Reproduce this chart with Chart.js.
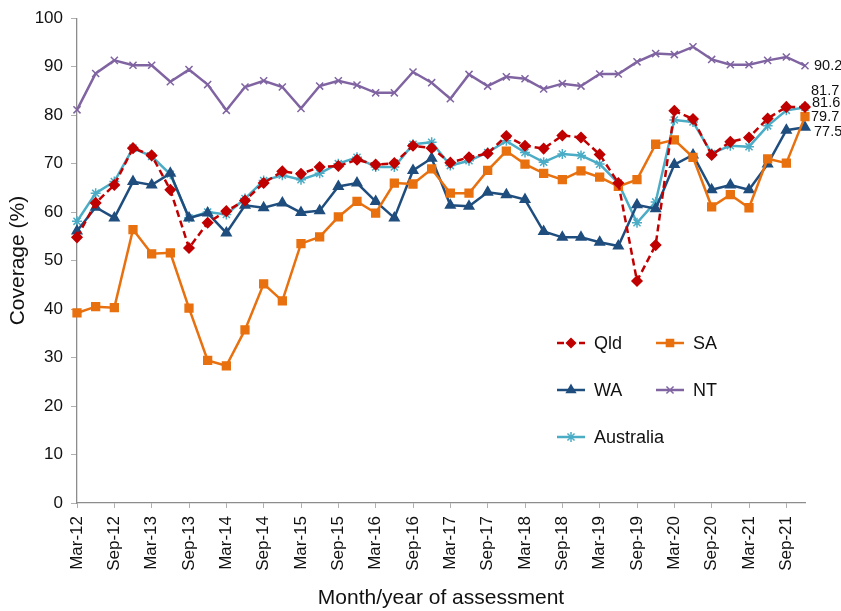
<!DOCTYPE html>
<html>
<head>
<meta charset="utf-8">
<script src="https://cdn.jsdelivr.net/npm/chart.js@4"></script>
<style>
  html, body { margin: 0; padding: 0; background: #fff; }
  #wrap { width: 841px; height: 611px; }
</style>
</head>
<body>
<div id="wrap"><canvas id="coverageChart" width="841" height="611"></canvas></div>
<script>
// quarterly assessments, Mar-12 .. Dec-21
const quarters = [];
const monthNames = ['Mar', 'Jun', 'Sep', 'Dec'];
for (let yr = 12; yr <= 21; yr++) {
    monthNames.forEach(m => quarters.push(m + '-' + yr));
}

const qld = [54.8, 61.9, 65.6, 73.2, 71.7, 64.6, 52.6, 57.8, 60.2, 62.4,
             66.0, 68.4, 67.9, 69.3, 69.5, 70.8, 69.8, 70.1, 73.7, 73.2,
             70.2, 71.3, 72.1, 75.7, 73.7, 73.1, 75.8, 75.4, 71.9, 66.0,
             45.8, 53.2, 80.9, 79.2, 71.8, 74.5, 75.4, 79.3, 81.7, 81.7];
const sa = [39.2, 40.5, 40.3, 56.4, 51.4, 51.6, 40.2, 29.4, 28.3, 35.7,
            45.2, 41.7, 53.5, 54.9, 59.0, 62.2, 59.8, 66.0, 65.8, 68.9,
            63.9, 63.9, 68.6, 72.6, 69.9, 68.0, 66.7, 68.5, 67.2, 65.3,
            66.7, 74.0, 74.9, 71.3, 61.1, 63.6, 60.9, 71.0, 70.1, 79.7];
const wa = [56.1, 61.0, 58.8, 66.3, 65.6, 68.0, 58.8, 59.8, 55.7, 61.4,
            60.9, 61.9, 59.9, 60.3, 65.3, 66.0, 62.2, 58.8, 68.6, 71.1,
            61.4, 61.2, 64.1, 63.6, 62.6, 56.0, 54.8, 54.8, 53.8, 53.0,
            61.5, 60.7, 69.8, 71.8, 64.6, 65.6, 64.6, 69.9, 76.9, 77.5];
const nt = [81.1, 88.6, 91.3, 90.3, 90.3, 86.9, 89.4, 86.3, 81.0, 85.8,
            87.1, 85.8, 81.4, 86.0, 87.1, 86.2, 84.6, 84.6, 88.9, 86.7,
            83.4, 88.4, 86.0, 87.9, 87.5, 85.4, 86.5, 86.0, 88.5, 88.5,
            91.0, 92.7, 92.5, 94.1, 91.5, 90.4, 90.4, 91.3, 92.0, 90.2];
const australia = [58.1, 63.9, 66.3, 73.2, 71.5, 67.8, 58.8, 60.0, 59.5, 62.8,
                   66.5, 67.6, 66.7, 68.0, 70.0, 71.3, 69.3, 69.3, 74.0, 74.4,
                   69.6, 70.6, 72.3, 74.7, 72.3, 70.3, 72.0, 71.7, 69.9, 66.0,
                   57.8, 62.1, 79.0, 78.6, 72.1, 73.7, 73.5, 77.8, 81.0, 81.6];

const yTicks = [0, 10, 20, 30, 40, 50, 60, 70, 80, 90, 100];

const FONT = '"Liberation Sans", Arial, sans-serif';

function series(label, data, color, style, extra) {
    return Object.assign({
        label: label,
        data: data,
        borderColor: color,
        backgroundColor: color,
        pointBackgroundColor: color,
        pointBorderColor: color,
        borderWidth: 2.5,
        pointStyle: style,
        pointRadius: 5,
        pointBorderWidth: 1.5,
        tension: 0,
        fill: false
    }, extra || {});
}

const datasets = [
    series('Qld', qld, '#C00000', 'rectRot', { borderDash: [7, 4], pointRadius: 5 }),
    series('SA', sa, '#E8700E', 'rect', { pointRadius: 5.5 }),
    series('WA', wa, '#1F4E7E', 'triangle', { pointRadius: 5.5 }),
    series('NT', nt, '#8064A2', 'crossRot', { pointRadius: 5 }),
    series('Australia', australia, '#4BACC6', 'star', { pointRadius: 5 })
];

// nudges for the closing values so they don't collide
const endLabelShift = {
    Qld: [6, -16],
    SA: [6, 0],
    WA: [9, 4.5],
    NT: [9, 0.5],
    Australia: [7, -4]
};

const endLabels = {
    id: 'endLabels',
    afterDatasetsDraw(chart) {
        const ctx = chart.ctx;
        const y = chart.scales.y;
        const area = chart.chartArea;
        ctx.save();
        ctx.font = '14.5px ' + FONT;
        ctx.fillStyle = '#111';
        ctx.textBaseline = 'middle';
        ctx.textAlign = 'left';
        chart.data.datasets.forEach(ds => {
            const v = ds.data[ds.data.length - 1];
            const [dx, dy] = endLabelShift[ds.label];
            ctx.fillText(v.toFixed(1), area.right + dx, y.getPixelForValue(v) + dy);
        });
        ctx.restore();
    }
};

// two-column legend sitting inside the plot area
const legendSpots = [[557, 343], [656, 343], [557, 390], [656, 390], [557, 437]];

const insideLegend = {
    id: 'insideLegend',
    afterDraw(chart) {
        const ctx = chart.ctx;
        ctx.save();
        chart.data.datasets.forEach((ds, i) => {
            const [lx, ly] = legendSpots[i];
            ctx.strokeStyle = ds.borderColor;
            ctx.lineWidth = 2.5;
            ctx.setLineDash(ds.borderDash || []);
            ctx.beginPath();
            ctx.moveTo(lx, ly);
            ctx.lineTo(lx + 28, ly);
            ctx.stroke();
            ctx.setLineDash([]);
            ctx.fillStyle = ds.pointBackgroundColor;
            ctx.lineWidth = 1.5;
            Chart.helpers.drawPoint(ctx, {
                pointStyle: ds.pointStyle,
                radius: ds.label === 'Qld' ? 4.5 : 5,
                borderWidth: 1.5,
                rotation: 0
            }, lx + 14, ly);
            ctx.fillStyle = '#111';
            ctx.font = '18px ' + FONT;
            ctx.textBaseline = 'middle';
            ctx.fillText(ds.label, lx + 37, ly + 1);
        });
        ctx.restore();
    }
};

const ctx = document.getElementById('coverageChart').getContext('2d');
const coverageChart = new Chart(ctx, {
    type: 'line',
    data: { labels: quarters, datasets: datasets },
    plugins: [endLabels, insideLegend],
    options: {
        responsive: false,
        animation: false,
        layout: { padding: { top: 15, right: 36, left: 0, bottom: 0 } },
        plugins: {
            legend: { display: false },
            tooltip: { enabled: false }
        },
        scales: {
            x: {
                type: 'category',
                offset: false,
                border: { display: true, color: '#8c8c8c', width: 1.3 },
                grid: {
                    drawOnChartArea: false,
                    drawTicks: true,
                    tickLength: 5,
                    tickColor: c => (c.index % 2 === 0 ? '#b0b0b0' : 'rgba(0,0,0,0)')
                },
                ticks: {
                    autoSkip: false,
                    maxRotation: 90,
                    minRotation: 90,
                    padding: 8,
                    color: '#111',
                    font: { family: FONT, size: 17 },
                    callback: function (val, idx) {
                        return idx % 2 === 0 ? this.getLabelForValue(val) : '';
                    }
                },
                title: {
                    display: true,
                    text: 'Month/year of assessment',
                    color: '#111',
                    font: { family: FONT, size: 21 },
                    padding: { top: 4, bottom: 0 }
                },
                afterFit: s => { s.height = 108; }
            },
            y: {
                min: 0,
                max: 100,
                border: { display: true, color: '#8c8c8c', width: 1.3 },
                grid: { drawOnChartArea: false, drawTicks: true, tickLength: 6, tickColor: '#b0b0b0' },
                afterBuildTicks: s => { s.ticks = yTicks.map(v => ({ value: v })); },
                ticks: {
                    color: '#111',
                    padding: 8,
                    font: { family: FONT, size: 17 }
                },
                title: {
                    display: true,
                    text: 'Coverage (%)',
                    color: '#111',
                    font: { family: FONT, size: 21 },
                    padding: { top: 6, bottom: 0 }
                },
                afterFit: s => { s.width = 77; }
            }
        }
    }
});
</script>
</body>
</html>
